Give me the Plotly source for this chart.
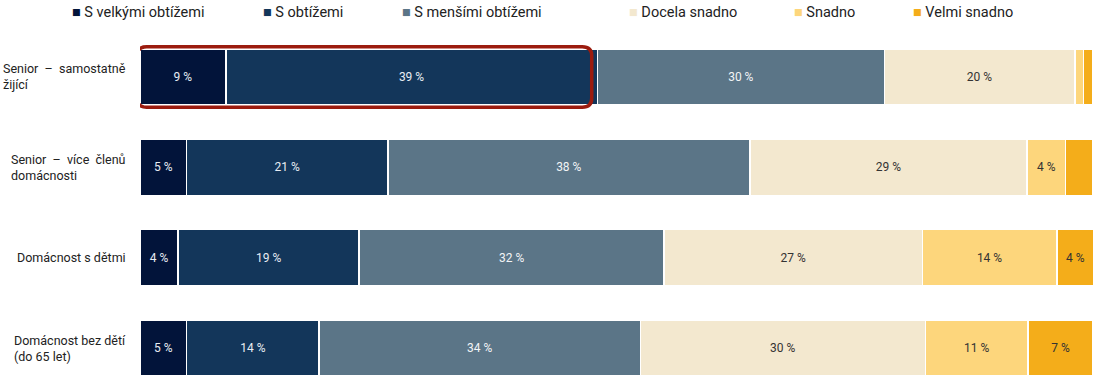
import plotly.graph_objects as go

categories = ["Senior – samostatně žijící", "Senior – více členů domácnosti",
              "Domácnost s dětmi", "Domácnost bez dětí (do 65 let)"]
cat_labels = ["Senior  –  samostatně<br>žijící", "Senior  –  více  členů<br>domácnosti",
              "Domácnost s dětmi", "Domácnost bez dětí<br>(do 65 let)"]
series_names = ["S velkými obtížemi", "S obtížemi", "S menšími obtížemi",
                "Docela snadno", "Snadno", "Velmi snadno"]
v_velke = [9.0, 4.9, 4.0, 4.9]
v_obtize = [39.0, 21.1, 19.0, 13.9]
v_mensi = [30.1, 38.0, 32.0, 33.7]
v_docela = [20.0, 29.1, 27.1, 29.9]
v_snadno = [0.9, 4.0, 14.1, 10.8]
v_velmi = [1.0, 2.9, 3.9, 6.8]
series_values = [v_velke, v_obtize, v_mensi, v_docela, v_snadno, v_velmi]
colors = ["#02143a", "#13365a", "#5b7587", "#f3e8cf", "#fdd67c", "#f4ad1a"]
text_colors = ["#e8edf3", "#e8edf3", "#f2f4f6", "#333333", "#333333", "#333333"]
label_min = 3.5

FONT = "Roboto, Noto Sans, sans-serif"

W, H = 1098, 379
ML, MT = 140, 32
PW = 953

fig = go.Figure()
for name, vals, col, tcol in zip(series_names, series_values, colors, text_colors):
    texts = [f"{round(v):.0f} %" if v >= label_min else "" for v in vals]
    fig.add_trace(go.Bar(
        y=categories, x=vals, orientation="h", name=name,
        marker=dict(color=col, line=dict(color="white", width=1.5)),
        width=0.62, text=texts, textposition="inside", insidetextanchor="middle",
        textfont=dict(color=tcol, size=12, family=FONT), textangle=0,
        showlegend=False, hoverinfo="x+name",
    ))

fig.update_layout(
    barmode="stack", width=W, height=H,
    margin=dict(l=ML, r=W - ML - PW, t=MT, b=0),
    plot_bgcolor="white", paper_bgcolor="white",
    font=dict(family=FONT, color="#222"),
    uniformtext=dict(minsize=8, mode="show"),
)
fig.update_xaxes(range=[0, 100], visible=False, fixedrange=True)
fig.update_yaxes(categoryorder="array", categoryarray=categories,
                 range=[3.343, -0.498], showticklabels=False, showgrid=False,
                 zeroline=False, showline=False)

# category labels (left aligned block)
for c, lab in zip(categories, cat_labels):
    fig.add_annotation(x=-12 / PW, xref="paper", y=c, yref="y", text=lab,
                       xanchor="right", yanchor="middle", align="left",
                       showarrow=False, font=dict(size=12.5, color="#222", family=FONT))

# legend as annotations
legend_px = [70, 261, 400, 627, 792, 911]
for name, col, px in zip(series_names, colors, legend_px):
    fig.add_annotation(x=(px - 140) / PW, xref="paper", y=1 + 20 / 347, yref="paper",
                       xanchor="left", yanchor="middle", showarrow=False,
                       text=f"<span style='color:{col}'>■</span> {name}",
                       font=dict(size=14.5, color="#222", family=FONT))

# highlight rectangle around first two segments of first row
x0 = -0.3
x1 = v_velke[0] + v_obtize[0] - 0.6
yc = 0
hy = 0.335
rx, ry = 1.0, 0.1
path = (f"M {x0+rx},{yc-hy} L {x1-rx},{yc-hy} Q {x1},{yc-hy} {x1},{yc-hy+ry} "
        f"L {x1},{yc+hy-ry} Q {x1},{yc+hy} {x1-rx},{yc+hy} "
        f"L {x0+rx},{yc+hy} Q {x0},{yc+hy} {x0},{yc+hy-ry} "
        f"L {x0},{yc-hy+ry} Q {x0},{yc-hy} {x0+rx},{yc-hy} Z")
fig.add_shape(type="path", path=path, xref="x", yref="y",
              line=dict(color="#9b1b0e", width=3.5), fillcolor="rgba(0,0,0,0)")

fig.write_html("out.html", config={"displayModeBar": False},
               post_script="document.body.style.margin='0';document.body.style.overflow='hidden';")
